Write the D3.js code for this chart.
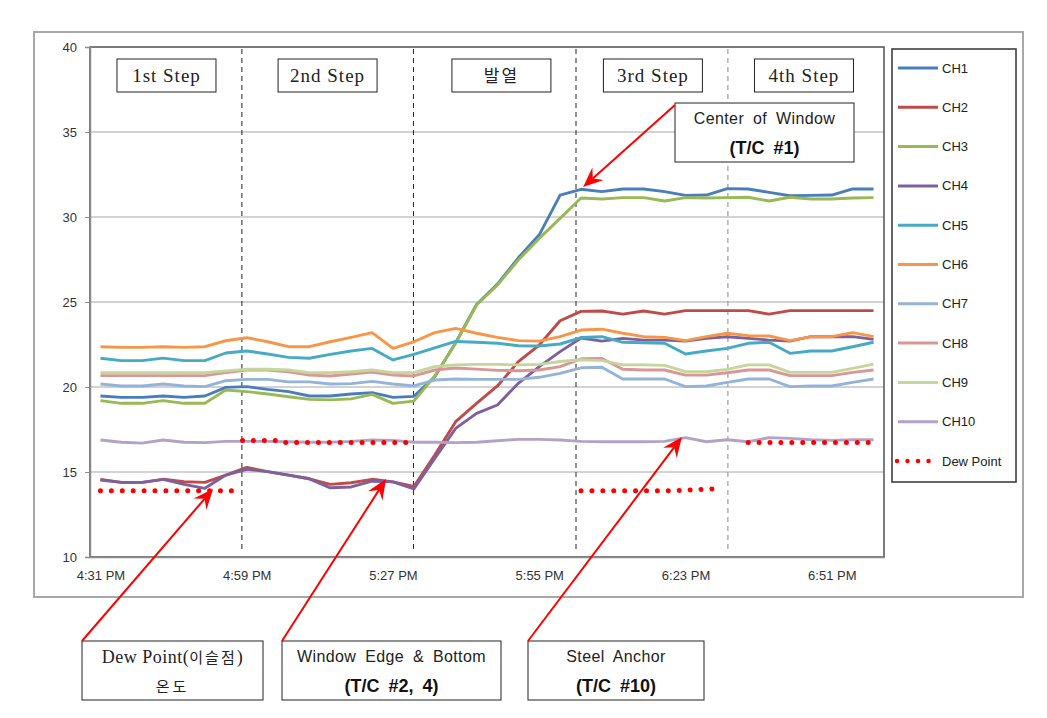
<!DOCTYPE html>
<html>
<head>
<meta charset="utf-8">
<script src="https://cdn.jsdelivr.net/npm/d3@7/dist/d3.min.js"></script>
<style>
  html, body { margin: 0; padding: 0; background: #fff; }
  svg { display: block; }
</style>
</head>
<body>
<svg id="chart" width="1047" height="718"></svg>
<script>
// ---------- DATA ----------
const categories = (function () {
  // 4-minute sampling from 4:31 PM to 6:59 PM (38 samples) — category labels
  const out = [];
  let h = 4, m = 31;
  for (let k = 0; k < 38; k++) {
    out.push(h + ":" + String(m).padStart(2, "0") + " PM");
    m += 4; if (m >= 60) { m -= 60; h += 1; }
  }
  return out;
})();
const tickIndex = [0, 7, 14, 21, 28, 35];
const yTicks = [10, 15, 20, 25, 30, 35, 40];

const seriesNames = ["CH1","CH2","CH3","CH4","CH5","CH6","CH7","CH8","CH9","CH10"];
const seriesColors = ["#4a7ebb","#be4b48","#98b954","#7d60a0","#46aac5","#f79646","#95b3d7","#d99694","#c3d69b","#b3a2c7"];

const ch1 = [19.47,19.39,19.39,19.47,19.39,19.47,19.98,20.02,19.86,19.73,19.47,19.47,19.59,19.67,19.39,19.45,20.6,22.6,24.85,26.05,27.6,28.95,31.29,31.63,31.49,31.65,31.65,31.49,31.27,31.29,31.67,31.65,31.45,31.25,31.27,31.29,31.65,31.65];
const ch2 = [14.57,14.39,14.39,14.57,14.43,14.39,14.82,15.27,15.02,14.82,14.6,14.27,14.37,14.57,14.42,14.15,16.0,17.96,19.04,20.06,21.49,22.47,23.9,24.45,24.47,24.29,24.47,24.29,24.49,24.49,24.49,24.49,24.29,24.49,24.49,24.49,24.49,24.49];
const ch3 = [19.2,19.04,19.04,19.2,19.04,19.04,19.82,19.73,19.59,19.43,19.27,19.24,19.3,19.57,19.04,19.17,20.65,22.57,24.82,26.0,27.47,28.74,29.92,31.12,31.06,31.14,31.14,30.94,31.14,31.12,31.14,31.16,30.94,31.16,31.06,31.06,31.12,31.14];
const ch4 = [14.53,14.39,14.39,14.57,14.27,14.04,14.82,15.16,15.02,14.82,14.6,14.07,14.12,14.46,14.42,14.01,15.8,17.57,18.45,18.94,20.22,21.2,22.08,22.88,22.7,22.86,22.76,22.76,22.7,22.86,22.96,22.86,22.76,22.7,22.96,22.96,22.96,22.8];
const ch5 = [21.69,21.55,21.55,21.7,21.55,21.55,22.0,22.12,21.94,21.74,21.69,21.92,22.12,22.27,21.59,21.92,22.3,22.68,22.63,22.57,22.43,22.41,22.53,22.91,22.96,22.63,22.6,22.57,21.94,22.12,22.27,22.57,22.63,21.98,22.12,22.12,22.37,22.63];
const ch6 = [22.37,22.33,22.33,22.37,22.33,22.37,22.72,22.9,22.66,22.37,22.37,22.66,22.92,23.2,22.27,22.66,23.2,23.45,23.16,22.92,22.73,22.7,22.96,23.35,23.4,23.16,22.96,22.92,22.73,22.96,23.16,23.02,23.0,22.73,22.96,22.96,23.2,22.96];
const ch7 = [20.18,20.06,20.06,20.18,20.06,20.02,20.37,20.45,20.45,20.3,20.3,20.18,20.2,20.33,20.18,20.06,20.41,20.47,20.45,20.45,20.45,20.57,20.8,21.13,21.16,20.47,20.47,20.47,20.02,20.06,20.27,20.47,20.47,20.02,20.06,20.06,20.27,20.47];
const ch8 = [20.67,20.67,20.67,20.67,20.67,20.67,20.85,21.0,21.0,20.9,20.7,20.65,20.76,20.88,20.7,20.65,21.0,21.12,21.05,20.98,20.96,21.0,21.2,21.66,21.68,21.04,21.0,21.0,20.7,20.7,20.84,21.0,21.0,20.67,20.67,20.67,20.86,21.0];
const ch9 = [20.84,20.84,20.84,20.84,20.84,20.84,20.95,21.04,21.04,21.0,20.84,20.84,20.9,21.0,20.84,20.84,21.2,21.3,21.33,21.33,21.3,21.33,21.5,21.6,21.55,21.3,21.3,21.27,20.9,20.9,21.04,21.3,21.3,20.86,20.86,20.86,21.1,21.35];
const ch10 = [16.88,16.75,16.7,16.88,16.75,16.73,16.8,16.8,16.8,16.78,16.75,16.75,16.8,16.88,16.86,16.75,16.75,16.73,16.75,16.84,16.92,16.92,16.88,16.8,16.78,16.78,16.78,16.8,17.02,16.78,16.9,16.78,17.02,16.98,16.9,16.86,16.9,16.9];
const seriesValues = [ch1, ch2, ch3, ch4, ch5, ch6, ch7, ch8, ch9, ch10];

// Dew point segments: [category position, value]
const dewSeg1 = [[0, 13.9], [6.6, 13.9]];
const dewSeg2 = [[6.8, 16.85], [8.6, 16.85], [8.8, 16.73], [15, 16.73]];
const dewSeg3 = [[23, 13.9], [27.5, 13.9], [29.5, 14.02]];
const dewSeg4 = [[31, 16.73], [37, 16.73]];
const dewSegments = [dewSeg1, dewSeg2, dewSeg3, dewSeg4];

// Step boundaries (category positions) and labels
const stepBoundaries = [6.77, 14.98, 22.76, 30.03];
const stepLabels = ["1st Step", "2nd Step", "발열", "3rd Step", "4th Step"];
const stepCenters = [3.16, 10.87, 19.19, 26.44, 33.67];

// Callouts: target point (category position, value)
const calloutTargets = [[23.1, 31.76], [5.39, 14.0], [13.67, 14.59], [27.83, 17.06]];

// ---------- LAYOUT ----------
const svg = d3.select("#chart");
const L = 90, R = 884, T = 47, B = 557;
const x = d3.scaleLinear().domain([-0.5, 37.5]).range([L, R]);
const y = d3.scaleLinear().domain([10, 40]).range([B, T]);
const sans = "'Liberation Sans', Arial, sans-serif";
const serif = "'Liberation Serif', 'Times New Roman', serif";
const kr = "'Noto Sans CJK KR', sans-serif";

svg.append("rect").attr("width", 1047).attr("height", 718).attr("fill", "#fff");
// outer chart frame
svg.append("rect").attr("x", 34).attr("y", 32).attr("width", 989).attr("height", 565)
  .attr("fill", "none").attr("stroke", "#a8a8a8").attr("stroke-width", 2);

// gridlines
svg.append("g").selectAll("line").data(yTicks.filter(v => v > 10 && v < 40)).join("line")
  .attr("x1", L).attr("x2", R).attr("y1", d => y(d)).attr("y2", d => y(d))
  .attr("stroke", "#a6a6a6").attr("stroke-width", 1);

// plot border (top/right darker)
svg.append("rect").attr("x", L).attr("y", T).attr("width", R - L).attr("height", B - T)
  .attr("fill", "none").attr("stroke", "#505050").attr("stroke-width", 1.5);

// axes
const yAxis = svg.append("g").attr("transform", `translate(${L},0)`)
  .call(d3.axisLeft(y).tickValues(yTicks).tickSize(5).tickPadding(8));
yAxis.select(".domain").attr("stroke", "#8c8c8c").attr("stroke-width", 1.5);
yAxis.selectAll(".tick line").attr("stroke", "#8c8c8c");
yAxis.selectAll("text").attr("font-family", sans).attr("font-size", 13).attr("fill", "#333");

const xAxis = svg.append("g").attr("transform", `translate(0,${B})`)
  .call(d3.axisBottom(x).tickValues(tickIndex).tickFormat(i => categories[i]).tickSize(0).tickPadding(14));
xAxis.select(".domain").attr("stroke", "#8c8c8c").attr("stroke-width", 1.5);
xAxis.selectAll("text").attr("font-family", sans).attr("font-size", 13).attr("fill", "#333");

// step boundaries
svg.append("g").selectAll("line").data(stepBoundaries).join("line")
  .attr("x1", d => x(d)).attr("x2", d => x(d)).attr("y1", T + 2).attr("y2", B - 5)
  .attr("stroke", (d, i) => i === 3 ? "#8a8a8a" : "#222").attr("stroke-width", 1)
  .attr("stroke-dasharray", "5,4");

// series lines
const line = d3.line().x((d, i) => x(i)).y(d => y(d));
svg.append("g").selectAll("path").data(seriesValues).join("path")
  .attr("d", d => line(d)).attr("fill", "none")
  .attr("stroke", (d, i) => seriesColors[i]).attr("stroke-width", 2.9)
  .attr("stroke-linejoin", "round");

// dew point
const dewLine = d3.line().x(d => x(d[0])).y(d => y(d[1]));
svg.append("g").selectAll("path").data(dewSegments).join("path")
  .attr("d", d => dewLine(d)).attr("fill", "none")
  .attr("stroke", "#ff0000").attr("stroke-width", 5)
  .attr("stroke-linecap", "round").attr("stroke-dasharray", "0.01,10.9");

// step label boxes
const stepG = svg.append("g").selectAll("g").data(stepLabels).join("g")
  .attr("transform", (d, i) => `translate(${x(stepCenters[i])},75.5)`);
stepG.append("rect").attr("x", -49.5).attr("y", -16.5).attr("width", 99).attr("height", 33)
  .attr("fill", "#fff").attr("stroke", "#222").attr("stroke-width", 1);
stepG.append("text").text(d => d).attr("text-anchor", "middle").attr("y", 6.5)
  .attr("font-family", (d, i) => i === 2 ? kr : serif)
  .attr("font-size", (d, i) => i === 2 ? 17 : 19)
  .attr("letter-spacing", (d, i) => i === 2 ? 2 : 1)
  .attr("fill", "#222").text(d => d);

// legend
const legG = svg.append("g");
legG.append("rect").attr("x", 892).attr("y", 49).attr("width", 124).attr("height", 433)
  .attr("fill", "#fff").attr("stroke", "#333").attr("stroke-width", 1.5);
const legItems = seriesNames.concat(["Dew Point"]);
const li = legG.selectAll("g").data(legItems).join("g")
  .attr("transform", (d, i) => `translate(0,${68 + i * 39.3})`);
li.append("line").attr("x1", (d, i) => i === 10 ? 897 : 898).attr("x2", 938)
  .attr("y1", 0).attr("y2", 0)
  .attr("stroke", (d, i) => i === 10 ? "#ff0000" : seriesColors[i])
  .attr("stroke-width", (d, i) => i === 10 ? 4.5 : 3)
  .attr("stroke-linecap", (d, i) => i === 10 ? "round" : "butt")
  .attr("stroke-dasharray", (d, i) => i === 10 ? "0.01,10.5" : null);
li.append("text").attr("x", 942).attr("y", 4.5).text(d => d)
  .attr("font-family", sans).attr("font-size", 13).attr("fill", "#222");

// callout boxes
const callouts = [
  { x: 675, y: 103, w: 179, h: 59, lines: ["Center of Window", "(T/C #1)"], ax: 675, ay: 105 },
  { x: 82, y: 641, w: 181, h: 59, lines: ["Dew Point(이슬점)", "온도"], ax: 82, ay: 641 },
  { x: 282, y: 641, w: 219, h: 59, lines: ["Window Edge & Bottom", "(T/C #2, 4)"], ax: 282, ay: 641 },
  { x: 528, y: 641, w: 176, h: 59, lines: ["Steel Anchor", "(T/C #10)"], ax: 528, ay: 641 }
];
const cg = svg.append("g");
callouts.forEach((c, k) => {
  cg.append("rect").attr("x", c.x).attr("y", c.y).attr("width", c.w).attr("height", c.h)
    .attr("fill", "#fff").attr("stroke", "#222").attr("stroke-width", 1);
  const cx = c.x + c.w / 2;
  if (k === 1) {
    cg.append("text").attr("x", cx).attr("y", c.y + 22).attr("text-anchor", "middle")
      .attr("font-family", serif + ", " + kr).attr("font-size", 18).attr("fill", "#222")
      .selectAll("tspan").data(["Dew Point(", "이슬점", ")"]).join("tspan")
      .attr("font-family", (d, i) => i === 1 ? kr : serif)
      .attr("font-size", (d, i) => i === 1 ? 15 : 18)
      .attr("letter-spacing", (d, i) => i === 1 ? 2 : 0.5)
      .text(d => d);
    cg.append("text").attr("x", cx).attr("y", c.y + 51).attr("text-anchor", "middle")
      .attr("font-family", kr).attr("font-size", 15).attr("letter-spacing", 3)
      .attr("fill", "#222").text(c.lines[1]);
  } else {
    cg.append("text").attr("x", cx).attr("y", c.y + 21).attr("text-anchor", "middle")
      .attr("font-family", sans).attr("font-size", 16).attr("letter-spacing", 0.4)
      .attr("word-spacing", 4).attr("fill", "#222").text(c.lines[0]);
    cg.append("text").attr("x", cx).attr("y", c.y + 51).attr("text-anchor", "middle")
      .attr("font-family", "'Liberation Sans Narrow', 'Liberation Sans', sans-serif")
      .attr("font-weight", "bold").attr("font-size", 18).attr("word-spacing", 4)
      .attr("fill", "#111").text(c.lines[1]);
  }
});

// arrows
const ag = svg.append("g");
callouts.forEach((c, k) => {
  const tx = x(calloutTargets[k][0]), ty = y(calloutTargets[k][1]);
  const dx = tx - c.ax, dy = ty - c.ay;
  const len = Math.hypot(dx, dy), ux = dx / len, uy = dy / len;
  const hl = 20, hw = 8.5, notch = 13;
  ag.append("line").attr("x1", c.ax).attr("y1", c.ay)
    .attr("x2", tx - ux * notch).attr("y2", ty - uy * notch)
    .attr("stroke", "#ff0000").attr("stroke-width", 2);
  const bx = tx - ux * hl, by = ty - uy * hl;
  const nx = tx - ux * notch, ny = ty - uy * notch;
  const pts = [[tx, ty], [bx - uy * hw, by + ux * hw], [nx, ny], [bx + uy * hw, by - ux * hw]];
  ag.append("path").attr("d", "M" + pts.map(p => p.join(",")).join("L") + "Z")
    .attr("fill", "#ff0000");
});
</script>
</body>
</html>
